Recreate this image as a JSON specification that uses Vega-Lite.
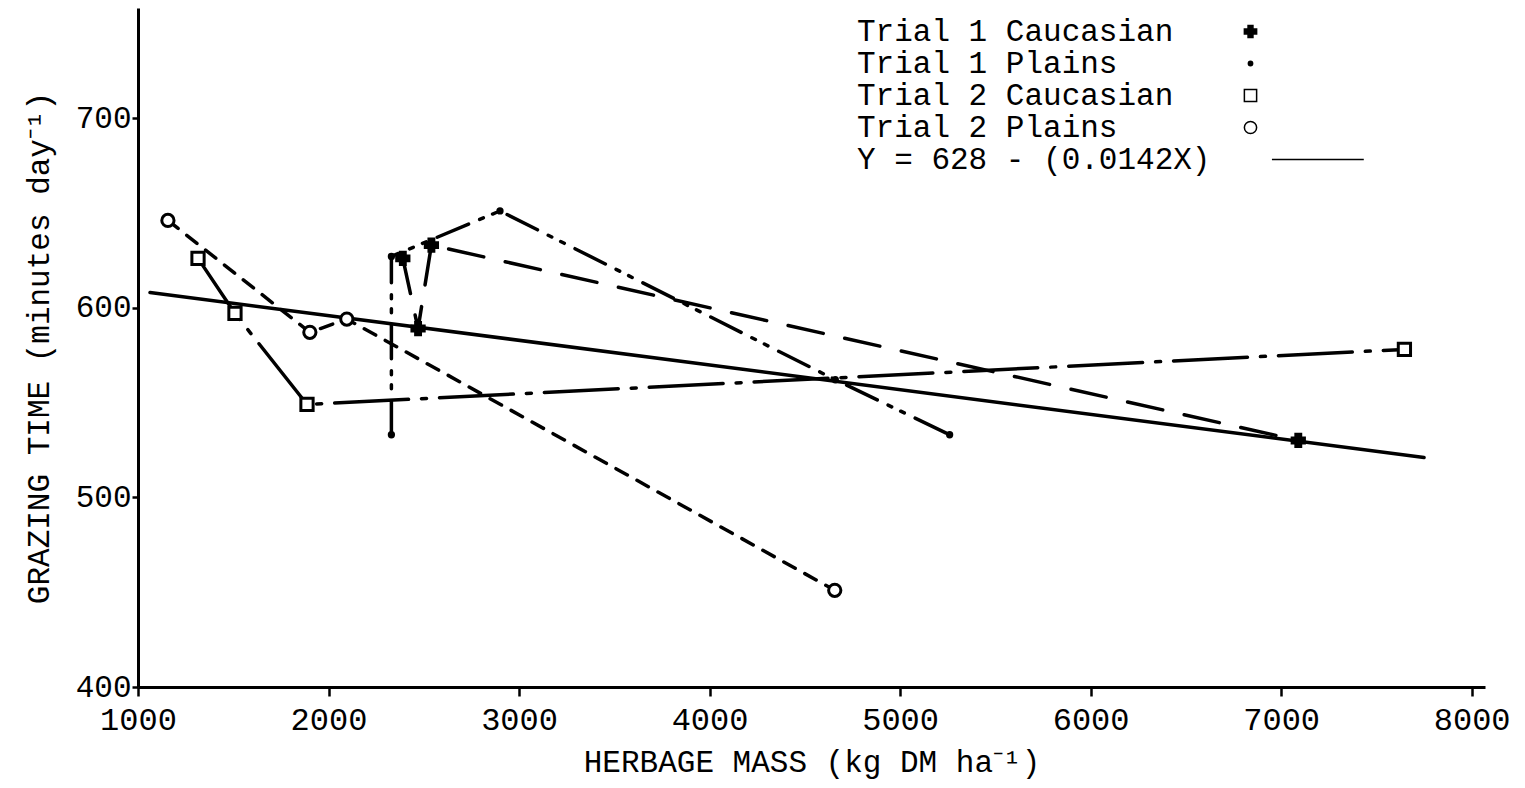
{
  "$schema": "https://vega.github.io/schema/vega-lite/v6.json",
  "width": 1347,
  "height": 679,
  "autosize": {"type": "none"},
  "padding": {"left": 138, "top": 8, "right": 40, "bottom": 101},
  "background": "white",
  "config": {
    "view": {"stroke": null},
    "font": "Liberation Mono",
    "axis": {
      "grid": false,
      "domainColor": "black",
      "domainWidth": 3,
      "tickColor": "black",
      "tickWidth": 2.5,
      "labelColor": "black",
      "titleColor": "black",
      "labelFont": "Liberation Mono",
      "titleFont": "Liberation Mono",
      "titleFontWeight": "normal"
    },
    "line": {"stroke": "black", "strokeWidth": 3.5, "strokeCap": "round"}
  },
  "data": {
    "values": [
      {"series": "Trial 1 Caucasian", "seq": 1, "mass": 2390, "time": 626},
      {"series": "Trial 1 Caucasian", "seq": 2, "mass": 2470, "time": 589},
      {"series": "Trial 1 Caucasian", "seq": 3, "mass": 2540, "time": 633},
      {"series": "Trial 1 Caucasian", "seq": 4, "mass": 7090, "time": 530},
      {"series": "Trial 1 Plains", "seq": 1, "mass": 2330, "time": 533},
      {"series": "Trial 1 Plains", "seq": 2, "mass": 2330, "time": 627},
      {"series": "Trial 1 Plains", "seq": 3, "mass": 2900, "time": 651},
      {"series": "Trial 1 Plains", "seq": 4, "mass": 4660, "time": 562},
      {"series": "Trial 1 Plains", "seq": 5, "mass": 5260, "time": 533},
      {"series": "Trial 2 Caucasian", "seq": 1, "mass": 1315, "time": 626},
      {"series": "Trial 2 Caucasian", "seq": 2, "mass": 1509, "time": 597},
      {"series": "Trial 2 Caucasian", "seq": 3, "mass": 1887, "time": 549},
      {"series": "Trial 2 Caucasian", "seq": 4, "mass": 7647, "time": 578},
      {"series": "Trial 2 Plains", "seq": 1, "mass": 1157, "time": 646},
      {"series": "Trial 2 Plains", "seq": 2, "mass": 1902, "time": 587},
      {"series": "Trial 2 Plains", "seq": 3, "mass": 2096, "time": 594},
      {"series": "Trial 2 Plains", "seq": 4, "mass": 4657, "time": 451},
      {"series": "Y = 628 - (0.0142X)", "seq": 1, "mass": 1063, "time": 608},
      {"series": "Y = 628 - (0.0142X)", "seq": 2, "mass": 7750, "time": 521}
    ]
  },
  "encoding": {
    "x": {
      "field": "mass", "type": "quantitative",
      "scale": {"domain": [1000, 8070], "nice": false, "zero": false},
      "axis": {
        "values": [1000, 2000, 3000, 4000, 5000, 6000, 7000, 8000],
        "format": "d",
        "title": "HERBAGE MASS (kg DM ha⁻¹)",
        "labelFontSize": 32,
        "titleFontSize": 31,
        "tickSize": 9,
        "labelPadding": 8,
        "titlePadding": 12,
        "labelFlush": false
      }
    },
    "y": {
      "field": "time", "type": "quantitative",
      "scale": {"domain": [400, 758], "nice": false, "zero": false},
      "axis": {
        "values": [400, 500, 600, 700],
        "format": "d",
        "title": "GRAZING TIME (minutes day⁻¹)",
        "labelFontSize": 31,
        "titleFontSize": 31,
        "tickSize": 6,
        "labelPadding": 1,
        "titlePadding": 20,
        "labelFlush": false
      }
    }
  },
  "layer": [
    {
      "transform": [{"filter": "datum.series === 'Trial 1 Caucasian'"}],
      "mark": {"type": "line", "strokeDash": [36, 22]},
      "encoding": {"order": {"field": "seq", "type": "quantitative"}}
    },
    {
      "transform": [{"filter": "datum.series === 'Trial 1 Plains'"}],
      "mark": {"type": "line", "strokeDash": [34, 12, 4, 10, 4, 12]},
      "encoding": {"order": {"field": "seq", "type": "quantitative"}}
    },
    {
      "transform": [{"filter": "datum.series === 'Trial 2 Caucasian'"}],
      "mark": {"type": "line", "strokeDash": [74, 13, 5, 13]},
      "encoding": {"order": {"field": "seq", "type": "quantitative"}}
    },
    {
      "transform": [{"filter": "datum.series === 'Trial 2 Plains'"}],
      "mark": {"type": "line", "strokeDash": [13, 11]},
      "encoding": {"order": {"field": "seq", "type": "quantitative"}}
    },
    {
      "transform": [{"filter": "datum.series === 'Y = 628 - (0.0142X)'"}],
      "mark": {"type": "line"},
      "encoding": {"order": {"field": "seq", "type": "quantitative"}}
    },
    {
      "transform": [{"filter": "datum.series !== 'Y = 628 - (0.0142X)'"}],
      "mark": {"type": "point", "stroke": "black", "strokeWidth": 3, "size": 150, "opacity": 1, "filled": false},
      "encoding": {
        "shape": {
          "field": "series", "type": "nominal",
          "scale": {
            "domain": ["Trial 1 Caucasian", "Trial 1 Plains", "Trial 2 Caucasian", "Trial 2 Plains", "Y = 628 - (0.0142X)"],
            "range": ["cross", "M0,-0.35A0.35,0.35 0 1,1 0,0.35A0.35,0.35 0 1,1 0,-0.35Z", "square", "circle", "M3.5,0H18.5"]
          },
          "legend": {
            "title": null,
            "orient": "none",
            "legendX": 1097,
            "legendY": 8,
            "labelFont": "Liberation Mono",
            "labelFontSize": 31,
            "labelColor": "black",
            "labelOffset": -409,
            "symbolOffset": 0,
            "symbolSize": 150,
            "rowPadding": 0,
            "labelLimit": 500,
            "encode": {"symbols": {"update": {"stroke": {"value": "black"}, "strokeWidth": {"value": 3.5}, "opacity": {"value": 1}}}}
          }
        },
        "fill": {
          "field": "series", "type": "nominal",
          "scale": {
            "domain": ["Trial 1 Caucasian", "Trial 1 Plains", "Trial 2 Caucasian", "Trial 2 Plains", "Y = 628 - (0.0142X)"],
            "range": ["black", "black", "white", "white", "black"]
          },
          "legend": {
            "title": null,
            "orient": "none",
            "legendX": 1097,
            "legendY": 8,
            "labelFont": "Liberation Mono",
            "labelFontSize": 31,
            "labelColor": "black",
            "labelOffset": -409,
            "symbolOffset": 0,
            "symbolSize": 150,
            "rowPadding": 0,
            "labelLimit": 500,
            "encode": {"symbols": {"update": {"stroke": {"value": "black"}, "strokeWidth": {"value": 3.5}, "opacity": {"value": 1}}}}
          }
        }
      }
    }
  ]
}
